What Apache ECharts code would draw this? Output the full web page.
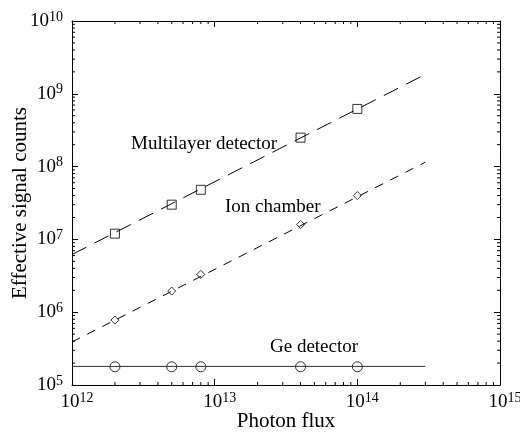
<!DOCTYPE html>
<html>
<head>
<meta charset="utf-8">
<script src="https://cdn.jsdelivr.net/npm/echarts@6/dist/echarts.min.js"></script>
<style>
  html, body { margin: 0; padding: 0; background: #fff; }
  #chart { width: 520px; height: 436px; }
</style>
</head>
<body>
<div id="chart"></div>
<script>
// measured points (photon flux -> effective signal counts)
var flux = [2e12, 5e12, 8e12, 4e13, 1e14];
var multilayer = [1.2e7, 3.0e7, 4.8e7, 2.5e8, 6.2e8];
var ionChamber = [7.8e5, 1.95e6, 3.3e6, 1.6e7, 4.0e7];
var geDetector = [1.78e5, 1.78e5, 1.78e5, 1.78e5, 1.78e5];

// fitted lines, drawn across the range
var fitFlux = [1e12, 3e14];
var multilayerFit = [6.2e6, 1.85e9];
var ionFit = [3.9e5, 1.15e8];
var geFit = [1.8e5, 1.8e5];

var font = 'Liberation Serif';

function pairs(xs, ys) {
  return xs.map(function (x, i) { return [x, ys[i]]; });
}

// minor tick positions (2..9 x 10^k) for the log axes
function minorValues(lo, hi) {
  var out = [];
  for (var k = lo; k < hi; k++) {
    for (var m = 2; m <= 9; m++) out.push(m * Math.pow(10, k));
  }
  return out;
}
var xMinor = minorValues(12, 15);
var yMinor = minorValues(5, 10);

function powLabel(v) {
  return '{b|10}{e|' + Math.round(Math.log10(v)) + '}';
}
var powRich = {
  b: { fontFamily: font, fontSize: 19, color: '#000' },
  e: { fontFamily: font, fontSize: 14, color: '#000', padding: [0, 0, 8, 0] }
};

var chart = echarts.init(document.getElementById('chart'));

var axisLine = { show: true, lineStyle: { color: '#000', width: 1 } };
var majorTick = { show: true, inside: true, length: 6, lineStyle: { color: '#000' } };

chart.setOption({
  animation: false,
  backgroundColor: '#fff',
  grid: { left: 72, right: 20, top: 21, bottom: 51, containLabel: false, outerBoundsMode: 'none' },
  xAxis: [{
    type: 'log', logBase: 10, min: 1e12, max: 1e15,
    name: 'Photon flux', nameLocation: 'middle', nameGap: 26, nameMoveOverlap: false,
    nameTextStyle: { fontFamily: font, fontSize: 21, color: '#000' },
    axisLine: axisLine, axisTick: majorTick, splitLine: { show: false },
    axisLabel: { formatter: powLabel, rich: powRich, margin: 6, padding: [0, 0, 0, 10] }
  }, {
    type: 'log', logBase: 10, min: 1e12, max: 1e15, position: 'top',
    axisLine: axisLine, axisTick: majorTick, splitLine: { show: false },
    axisLabel: { show: false }
  }],
  yAxis: [{
    type: 'log', logBase: 10, min: 1e5, max: 1e10,
    name: 'Effective signal counts', nameLocation: 'middle', nameGap: 41, nameMoveOverlap: false,
    nameTextStyle: { fontFamily: font, fontSize: 21, color: '#000' },
    axisLine: axisLine, axisTick: majorTick, splitLine: { show: false },
    axisLabel: { formatter: powLabel, rich: powRich, margin: 9 }
  }, {
    type: 'log', logBase: 10, min: 1e5, max: 1e10, position: 'right',
    axisLine: axisLine, axisTick: majorTick, splitLine: { show: false },
    axisLabel: { show: false }
  }],
  series: [
    {
      type: 'custom', silent: true, data: xMinor.map(function (v) { return [v, 1e5]; }),
      renderItem: function (params, api) {
        var cs = params.coordSys;
        var x = api.coord([api.value(0), 1e5])[0];
        var st = { stroke: '#000', lineWidth: 1 };
        return { type: 'group', children: [
          { type: 'line', shape: { x1: x, y1: cs.y + cs.height, x2: x, y2: cs.y + cs.height - 3 }, style: st },
          { type: 'line', shape: { x1: x, y1: cs.y, x2: x, y2: cs.y + 3 }, style: st }
        ] };
      }
    },
    {
      type: 'custom', silent: true, data: yMinor.map(function (v) { return [1e12, v]; }),
      renderItem: function (params, api) {
        var cs = params.coordSys;
        var y = api.coord([1e12, api.value(1)])[1];
        var st = { stroke: '#000', lineWidth: 1 };
        return { type: 'group', children: [
          { type: 'line', shape: { x1: cs.x, y1: y, x2: cs.x + 3, y2: y }, style: st },
          { type: 'line', shape: { x1: cs.x + cs.width, y1: y, x2: cs.x + cs.width - 3, y2: y }, style: st }
        ] };
      }
    },
    {
      name: 'Multilayer fit', type: 'line', data: pairs(fitFlux, multilayerFit), showSymbol: false,
      lineStyle: { color: '#000', width: 1, type: [16, 9] }
    },
    {
      name: 'Ion fit', type: 'line', data: pairs(fitFlux, ionFit), showSymbol: false,
      lineStyle: { color: '#000', width: 1, type: [9, 8] }
    },
    {
      name: 'Ge fit', type: 'line', data: pairs(fitFlux, geFit), showSymbol: false,
      lineStyle: { color: '#333', width: 1 }
    },
    {
      name: 'Multilayer detector', type: 'scatter', data: pairs(flux, multilayer),
      symbol: 'rect', symbolSize: 9,
      itemStyle: { color: 'rgba(0,0,0,0)', borderColor: '#000', borderWidth: 1 }
    },
    {
      name: 'Ion chamber', type: 'scatter', data: pairs(flux, ionChamber),
      symbol: 'diamond', symbolSize: 8,
      itemStyle: { color: 'rgba(0,0,0,0)', borderColor: '#000', borderWidth: 1 }
    },
    {
      name: 'Ge detector', type: 'scatter', data: pairs(flux, geDetector),
      symbol: 'circle', symbolSize: 10,
      itemStyle: { color: 'rgba(0,0,0,0)', borderColor: '#000', borderWidth: 1 }
    }
  ],
  graphic: [
    { type: 'text', x: 131, y: 154, style: { text: 'Multilayer detector', fontFamily: font, fontSize: 19, fill: '#000', verticalAlign: 'bottom' } },
    { type: 'text', x: 225, y: 217, style: { text: 'Ion chamber', fontFamily: font, fontSize: 19, fill: '#000', verticalAlign: 'bottom' } },
    { type: 'text', x: 270, y: 357, style: { text: 'Ge detector', fontFamily: font, fontSize: 19, fill: '#000', verticalAlign: 'bottom' } }
  ]
});
</script>
</body>
</html>
